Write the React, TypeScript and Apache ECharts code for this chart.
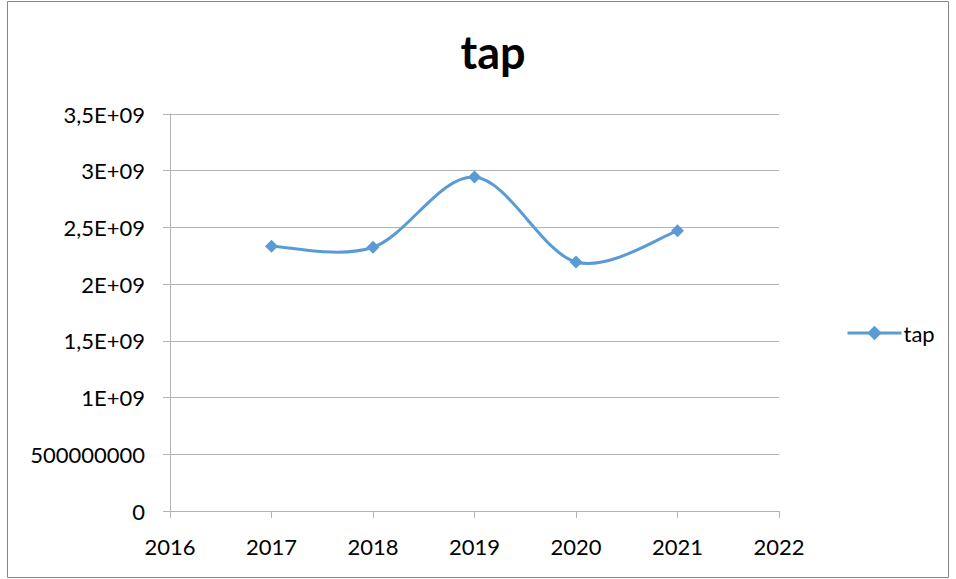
import React, { useEffect, useRef } from "react";
import * as echarts from "echarts";

// Yearly values of the "tap" series
const years = [2017, 2018, 2019, 2020, 2021];
const tapValues = [2.335e9, 2.325e9, 2.945e9, 2.195e9, 2.47e9];

// Y axis tick labels, one per 5E+08 step
const yTickLabels = ["0", "500000000", "1E+09", "1,5E+09", "2E+09", "2,5E+09", "3E+09", "3,5E+09"];

const FONT = "Lato, 'Open Sans', sans-serif";
const LINE_COLOR = "#5B9BD5";
const GRID_COLOR = "#B3B3B3";

const seriesData = years.map((y, i) => [y, tapValues[i]]);

// Catmull-Rom style smoothing (tangent = (next - prev) / 6), drawn through the axis scales
function smoothCurve(params: any, api: any) {
  if (params.dataIndex !== 0) return null;
  const pts: number[][] = seriesData.map((d) => api.coord(d));
  let d = `M${pts[0][0]},${pts[0][1]}`;
  for (let i = 0; i < pts.length - 1; i++) {
    const p0 = pts[i - 1] || pts[i];
    const p1 = pts[i];
    const p2 = pts[i + 1];
    const p3 = pts[i + 2] || pts[i + 1];
    const c1x = p1[0] + (p2[0] - p0[0]) / 6;
    const c1y = p1[1] + (p2[1] - p0[1]) / 6;
    const c2x = p2[0] - (p3[0] - p1[0]) / 6;
    const c2y = p2[1] - (p3[1] - p1[1]) / 6;
    d += ` C${c1x},${c1y} ${c2x},${c2y} ${p2[0]},${p2[1]}`;
  }
  return {
    type: "path",
    shape: { pathData: d },
    style: { fill: "none", stroke: LINE_COLOR, lineWidth: 3, lineJoin: "round", lineCap: "round" },
  };
}

export default function App() {
  const ref = useRef<HTMLDivElement>(null);

  useEffect(() => {
    if (!ref.current) return;
    const chart = echarts.init(ref.current, undefined, { renderer: "svg" });
    chart.setOption({
      animation: false,
      backgroundColor: "#ffffff",
      title: {
        text: "tap",
        left: 488,
        top: 24,
        textAlign: "center",
        textStyle: { fontFamily: FONT, fontSize: 45, fontWeight: "bold", color: "#000" },
      },
      legend: {
        data: ["tap"],
        left: 846,
        top: 322,
        padding: 0,
        itemWidth: 54,
        itemHeight: 18,
        itemGap: 4,
        lineStyle: { color: LINE_COLOR, width: 3, opacity: 1 },
        textStyle: { fontFamily: FONT, fontSize: 22, color: "#000", padding: [0, 0, 0, -3] },
      },
      grid: { left: 170, right: 177, top: 114, bottom: 68 },
      xAxis: {
        type: "value",
        min: 2016,
        max: 2022,
        interval: 1,
        axisLine: { show: true, lineStyle: { color: GRID_COLOR, width: 1 } },
        axisTick: { show: true, length: 7, lineStyle: { color: GRID_COLOR } },
        splitLine: { show: false },
        axisLabel: { margin: 24, fontFamily: FONT, fontSize: 22, color: "#000", formatter: (v: number) => String(v) },
      },
      yAxis: {
        type: "value",
        min: 0,
        max: 3.5e9,
        interval: 5e8,
        axisLine: { show: true, lineStyle: { color: GRID_COLOR, width: 1 } },
        axisTick: { show: true, length: 7, lineStyle: { color: GRID_COLOR } },
        splitLine: { show: true, lineStyle: { color: GRID_COLOR, width: 1 } },
        axisLabel: {
          margin: 25,
          fontFamily: FONT,
          fontSize: 22,
          color: "#000",
          formatter: (v: number) => yTickLabels[Math.round(v / 5e8)] ?? String(v),
        },
      },
      series: [
        {
          name: "tap",
          type: "line",
          data: seriesData,
          symbol: "diamond",
          symbolSize: 13,
          z: 3,
          lineStyle: { color: LINE_COLOR, width: 3, opacity: 0 },
          itemStyle: { color: LINE_COLOR },
        },
        {
          name: "tap",
          type: "custom",
          data: seriesData,
          encode: { x: 0, y: 1 },
          z: 2,
          renderItem: smoothCurve,
        },
      ],
      graphic: [
        {
          type: "rect",
          shape: { x: 7.5, y: 1.5, width: 941, height: 576 },
          style: { fill: "none", stroke: "#868686", lineWidth: 1 },
          silent: true,
        },
      ],
    });
    return () => chart.dispose();
  }, []);

  return <div ref={ref} style={{ position: "fixed", left: 0, top: 0, width: 956, height: 579 }} />;
}
